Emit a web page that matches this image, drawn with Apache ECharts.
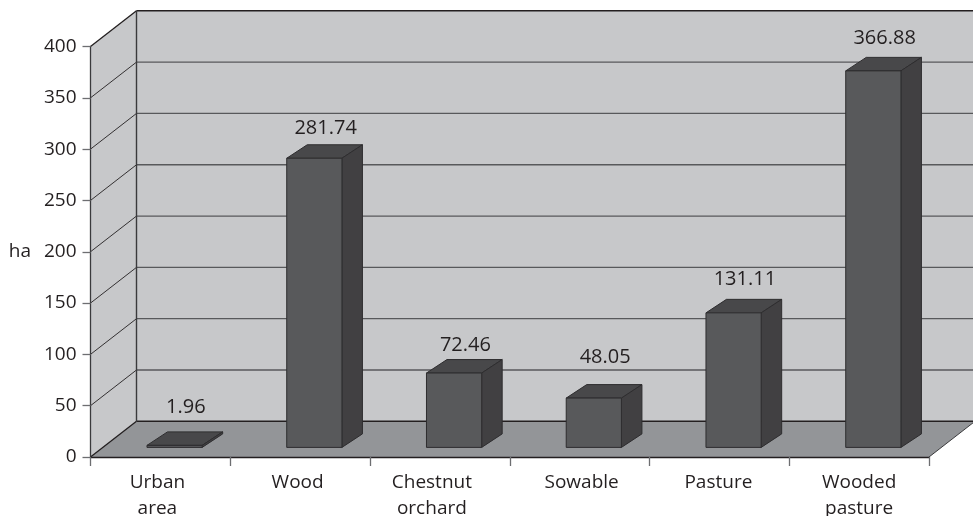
<!DOCTYPE html>
<html>
<head>
<meta charset="utf-8">
<style>html,body{margin:0;padding:0;background:#fff}#chart{width:973px;height:516px}</style>
<script src="https://cdn.jsdelivr.net/npm/echarts@6/dist/echarts.min.js"></script>
</head>
<body>
<div id="chart"></div>
<script>
// Land use by area, in hectares
const categories = ['Urban\narea', 'Wood', 'Chestnut\norchard', 'Sowable', 'Pasture', 'Wooded\npasture'];
const areaHa = [1.96, 281.74, 72.46, 48.05, 131.11, 366.88];
const areaLabels = ['1.96', '281.74', '72.46', '48.05', '131.11', '366.88'];
const yTicks = [0, 50, 100, 150, 200, 250, 300, 350, 400];

// Oblique projection used to fake the 3D box
const WALL_DX = 46, WALL_DY = -35.7;
const BAR_PLANE_DX = 14.2, BAR_PLANE_DY = -9.6;
const BAR_DX = 20.5, BAR_DY = -13.5;
const BAR_WIDTH_RATIO = 0.395;
const LABEL_LIFT = [25, 16.5, 14, 27, 20, 18.7];
const LABEL_SHIFT = 12;
// Horizontal nudge of each category label, in pixels
const CATEGORY_NUDGE = [-3, -2.5, -8, 2, -1, 0];

const FONT = '"Open Sans", "Noto Sans", sans-serif';
const INK = '#231f20';

function renderBox(params, api) {
  const cs = params.coordSys;
  const left = cs.x, right = cs.x + cs.width;
  const base = api.coord([0, 0])[1], top = api.coord([0, yTicks[yTicks.length - 1]])[1];
  const poly = (points, fill, stroke, lineWidth) => ({
    type: 'polygon', shape: { points },
    style: { fill, stroke: stroke || 'none', lineWidth: lineWidth || 0 }, silent: true
  });
  const line = (x1, y1, x2, y2, stroke, lineWidth) => ({
    type: 'line', shape: { x1, y1, x2, y2 }, style: { stroke, lineWidth }, silent: true
  });
  const children = [
    poly([[left + WALL_DX, top + WALL_DY], [right + WALL_DX, top + WALL_DY],
          [right + WALL_DX, base + WALL_DY], [left + WALL_DX, base + WALL_DY]], '#c7c8ca'),
    poly([[left, top], [left + WALL_DX, top + WALL_DY],
          [left + WALL_DX, base + WALL_DY], [left, base]], '#c7c8ca'),
    poly([[left, base], [left + WALL_DX, base + WALL_DY],
          [right + WALL_DX, base + WALL_DY], [right, base]], '#939598')
  ];
  yTicks.forEach((v) => {
    const y = api.coord([0, v])[1];
    const isEdge = v === 0 || v === yTicks[yTicks.length - 1];
    children.push(line(left, y, left + WALL_DX, y + WALL_DY, INK, isEdge ? 1.3 : 0.9));
    children.push(line(left + WALL_DX, y + WALL_DY, right + WALL_DX, y + WALL_DY,
      isEdge ? INK : '#58595b', isEdge ? 1.4 : 1.3));
  });
  children.push(line(left + WALL_DX, top + WALL_DY, left + WALL_DX, base + WALL_DY, '#3a3a3c', 1.4));
  children.push(line(right, base, right + WALL_DX, base + WALL_DY, '#3a3a3c', 1));
  return { type: 'group', children };
}

function renderBar(params, api) {
  const i = api.value(0);
  const p0 = api.coord([i, 0]);
  const p1 = api.coord([i, api.value(1)]);
  const w = api.size([1, 0])[0] * BAR_WIDTH_RATIO;
  const x0 = p0[0] + BAR_PLANE_DX - w / 2, x1 = x0 + w;
  const yb = p0[1] + BAR_PLANE_DY, yt = p1[1] + BAR_PLANE_DY;
  const edge = { stroke: '#2e2d2f', lineWidth: 1, lineJoin: 'round' };
  return {
    type: 'group',
    children: [
      { type: 'polygon', shape: { points: [[x0, yt], [x1, yt], [x1 + BAR_DX, yt + BAR_DY], [x0 + BAR_DX, yt + BAR_DY]] },
        style: Object.assign({ fill: '#48484a' }, edge) },
      { type: 'polygon', shape: { points: [[x1, yb], [x1 + BAR_DX, yb + BAR_DY], [x1 + BAR_DX, yt + BAR_DY], [x1, yt]] },
        style: Object.assign({ fill: '#414042' }, edge) },
      { type: 'polygon', shape: { points: [[x0, yb], [x1, yb], [x1, yt], [x0, yt]] },
        style: Object.assign({ fill: '#58595b' }, edge) },
      { type: 'text', x: (x0 + x1) / 2 + LABEL_SHIFT - 0.7, y: yt + BAR_DY - LABEL_LIFT[i],
        style: { text: areaLabels[i], fill: INK, font: '20px ' + FONT, align: 'center', verticalAlign: 'middle' } }
    ]
  };
}

const categoryItems = categories.map((value, i) => {
  const n = CATEGORY_NUDGE[i];
  return { value, textStyle: { padding: [0, n < 0 ? -2 * n : 0, 0, n > 0 ? 2 * n : 0] } };
});

const chart = echarts.init(document.getElementById('chart'), null, { renderer: 'canvas' });
chart.setOption({
  animation: false,
  backgroundColor: '#ffffff',
  grid: { left: 90.5, right: 44, top: 46.5, bottom: 59, outerBoundsMode: 'none', containLabel: false },
  xAxis: {
    type: 'category', data: categoryItems, z: 5,
    axisLine: { show: true, lineStyle: { color: INK, width: 1.3 } },
    axisTick: { show: true, alignWithLabel: false, length: 9, lineStyle: { color: '#6d6e71', width: 1.3 } },
    axisLabel: { color: INK, fontFamily: FONT, fontSize: 19, lineHeight: 26, margin: 12.5, interval: 0 },
    splitLine: { show: false }
  },
  yAxis: {
    type: 'value', min: 0, max: 400, interval: 50, z: 5,
    name: 'ha', nameLocation: 'middle', nameRotate: 0, nameGap: 59.5,
    nameTextStyle: { color: INK, fontFamily: FONT, fontSize: 19 },
    axisLine: { show: true, lineStyle: { color: '#3a3a3c', width: 1.3 } },
    axisTick: { show: true, length: 8, lineStyle: { color: '#6d6e71', width: 1.3 } },
    axisLabel: { color: INK, fontFamily: FONT, fontSize: 19, margin: 14 },
    splitLine: { show: false }
  },
  series: [
    { type: 'custom', z: 1, silent: true, data: [0], renderItem: renderBox },
    { type: 'custom', z: 2, silent: true, data: areaHa.map((v, i) => [i, v]), encode: { x: 0, y: 1 }, renderItem: renderBar }
  ]
});
</script>
</body>
</html>
